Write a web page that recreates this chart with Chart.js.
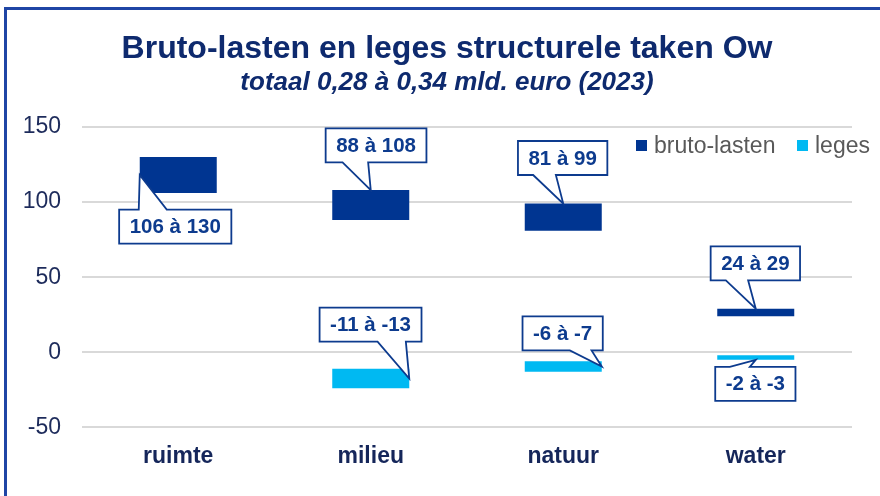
<!DOCTYPE html>
<html>
<head>
<meta charset="utf-8">
<script src="https://cdn.jsdelivr.net/npm/chart.js@4/dist/chart.umd.min.js"></script>
<style>
  html, body { margin: 0; padding: 0; background: #fff; overflow: hidden; }
  #wrap { position: relative; width: 880px; height: 496px; }
  #frame { position: absolute; left: 4px; top: 7px; width: 900px; height: 600px;
           border-top: 3px solid #1f45a5; border-left: 3px solid #1f45a5; pointer-events: none; }
</style>
</head>
<body>
<div id="wrap">
  <canvas id="chart" width="880" height="496"></canvas>
  <div id="frame"></div>
</div>
<script>
// categorieen en waarden (mln euro)
const categories = ['ruimte', 'milieu', 'natuur', 'water'];
const brutoLow  = [106, 88, 81, 24];
const brutoHigh = [130, 108, 99, 29];
const legesLow  = [null, -11, -6, -2];
const legesHigh = [null, -24, -13, -5];
const brutoText = ['106 à 130', '88 à 108', '81 à 99', '24 à 29'];
const legesText = [null, '-11 à -13', '-6 à -7', '-2 à -3'];
const yTicks = [-50, 0, 50, 100, 150];

const navy = '#003591', cyan = '#00b9f2', calloutBlue = '#0d3b8e';

// waar de ballonnen staan t.o.v. de balk (ankerpunt, verschuiving, staart)
const calloutPos = [
  [ {anchor:'left',   dx: 35.5, dy: 51.6, side:'top',    t1:-36.5, t2:-8.5},
    {anchor:'top',    dx: 5.3,  dy:-44.7, side:'bottom', t1:-33.5, t2:-7.9},
    {anchor:'top',    dx:-0.6,  dy:-45.6, side:'bottom', t1:-29.5, t2:-6.8},
    {anchor:'top',    dx:-0.4,  dy:-45.3, side:'bottom', t1:-29.5, t2:-7.2} ],
  [ null,
    {anchor:'right',  dx:-38.7, dy:-54,   side:'bottom', t1:7,     t2:35.3},
    {anchor:'right',  dx:-39.1, dy:-33.2, side:'bottom', t1:7.2,   t2:28.9},
    {anchor:'bottom', dx:-0.4,  dy:24,    side:'top',    t1:-25.5, t2:-5.5} ]
];
const calloutText = [brutoText, legesText];

const calloutPlugin = {
  id: 'callouts',
  afterDatasetsDraw(chart) {
    const ctx = chart.ctx;
    ctx.save();
    ctx.font = 'bold 20.5px "Liberation Sans", Arial, sans-serif';
    chart.data.datasets.forEach((ds, di) => {
      chart.getDatasetMeta(di).data.forEach((bar, i) => {
        const txt = calloutText[di][i];
        const p = calloutPos[di][i];
        if (!txt || !p) return;
        const top = Math.min(bar.y, bar.base), bot = Math.max(bar.y, bar.base);
        const left = bar.x - bar.width / 2, right = bar.x + bar.width / 2;
        let ax = bar.x, ay = (top + bot) / 2;
        if (p.anchor === 'left') ax = left;
        if (p.anchor === 'right') ax = right;
        if (p.anchor === 'top') ay = top;
        if (p.anchor === 'bottom') ay = bot;
        const cx = ax + p.dx, cy = ay + p.dy;
        const w = ctx.measureText(txt).width + 21, h = 34;
        const x0 = cx - w / 2, x1 = cx + w / 2, y0 = cy - h / 2, y1 = cy + h / 2;
        ctx.beginPath();
        ctx.moveTo(x0, y0);
        if (p.side === 'top') {
          ctx.lineTo(cx + p.t1, y0); ctx.lineTo(ax, ay); ctx.lineTo(cx + p.t2, y0);
        }
        ctx.lineTo(x1, y0);
        ctx.lineTo(x1, y1);
        if (p.side === 'bottom') {
          ctx.lineTo(cx + p.t2, y1); ctx.lineTo(ax, ay); ctx.lineTo(cx + p.t1, y1);
        }
        ctx.lineTo(x0, y1);
        ctx.closePath();
        ctx.fillStyle = '#fff';
        ctx.fill();
        ctx.lineWidth = 1.8;
        ctx.strokeStyle = calloutBlue;
        ctx.lineJoin = 'miter';
        ctx.stroke();
        ctx.fillStyle = calloutBlue;
        ctx.textAlign = 'center';
        ctx.textBaseline = 'middle';
        ctx.fillText(txt, cx, cy + 1);
      });
    });
    ctx.restore();
  }
};

// legenda rechtsboven in het plotvlak
const legendPlugin = {
  id: 'legendInside',
  afterDraw(chart) {
    const ctx = chart.ctx;
    const xs = [636, 797];
    ctx.save();
    ctx.font = '23px "Liberation Sans", Arial, sans-serif';
    ctx.textBaseline = 'middle';
    chart.data.datasets.forEach((ds, i) => {
      ctx.fillStyle = ds.backgroundColor;
      ctx.fillRect(xs[i], 140, 11, 11);
      ctx.fillStyle = '#595959';
      ctx.fillText(ds.label, xs[i] + 18, 146.5);
    });
    ctx.restore();
  }
};

const ctx = document.getElementById('chart').getContext('2d');
new Chart(ctx, {
  type: 'bar',
  data: {
    labels: categories,
    datasets: [
      { label: 'bruto-lasten', data: brutoLow.map((v, i) => [v, brutoHigh[i]]), backgroundColor: navy },
      { label: 'leges', data: legesLow.map((v, i) => v === null ? null : [v, legesHigh[i]]), backgroundColor: cyan }
    ]
  },
  options: {
    responsive: false,
    animation: false,
    devicePixelRatio: 1,
    layout: { padding: { left: 22, right: 8, top: 0, bottom: 11 } },
    datasets: { bar: { grouped: false, categoryPercentage: 0.8, barPercentage: 0.5, borderWidth: 0, borderSkipped: false } },
    plugins: {
      legend: { display: false },
      tooltip: { enabled: false },
      title: {
        display: true,
        text: 'Bruto-lasten en leges structurele taken Ow',
        color: '#0e2a6e',
        font: { family: '"Liberation Sans", Arial, sans-serif', size: 32, weight: 'bold', lineHeight: 1.2 },
        padding: { top: 30, bottom: 0 }
      },
      subtitle: {
        display: true,
        text: 'totaal 0,28 à 0,34 mld. euro (2023)',
        color: '#0e2a6e',
        font: { family: '"Liberation Sans", Arial, sans-serif', size: 26, weight: 'bold', style: 'italic', lineHeight: 1.1 },
        padding: { top: 0, bottom: 30 }
      }
    },
    scales: {
      x: {
        grid: { display: false, drawTicks: false },
        border: { display: false },
        ticks: { color: '#15265a', padding: 15, font: { family: '"Liberation Sans", Arial, sans-serif', size: 23, weight: 'bold' } }
      },
      y: {
        min: -50, max: 150,
        afterBuildTicks: s => { s.ticks = yTicks.map(v => ({ value: v })); },
        afterFit: s => { s.width = 60; },
        grid: { color: '#d9d9d9', lineWidth: 2, drawTicks: false },
        border: { display: false },
        ticks: { color: '#1d2b5b', padding: 21, font: { family: '"Liberation Sans", Arial, sans-serif', size: 23 } }
      },
      // lege rechteras: alleen ruimte rechts van het plotvlak
      yRight: {
        position: 'right',
        min: -50, max: 150,
        grid: { display: false, drawTicks: false },
        border: { display: false },
        ticks: { display: false },
        afterFit: s => { s.width = 20; }
      }
    }
  },
  plugins: [calloutPlugin, legendPlugin]
});
</script>
</body>
</html>
